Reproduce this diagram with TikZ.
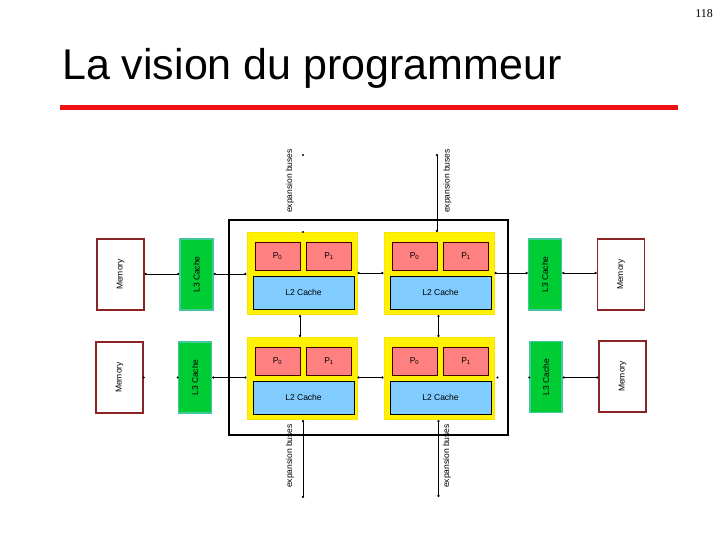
\documentclass[tikz,border=0pt]{standalone}
\usepackage{fontspec}
\setmainfont{Liberation Sans}
\newfontfamily\serifnum{Liberation Serif}
\usetikzlibrary{arrows.meta}
\definecolor{barred}{HTML}{EE1111}
\definecolor{pfill}{HTML}{FF8080}
\definecolor{l2fill}{HTML}{80CCFF}
\definecolor{l3fill}{HTML}{00CC33}
\definecolor{l3edge}{HTML}{40C8A0}
\definecolor{memedge}{HTML}{8B2525}
\tikzset{
  lbl/.style={font=\fontsize{8.5}{9}\selectfont, text=black},
  yblock/.style={fill=yellow, draw=yellow!85!orange, line width=1pt, minimum width=110pt, minimum height=82pt, inner sep=0pt},
  pbox/.style={fill=pfill, draw=black!75!red, line width=0.8pt, minimum width=45pt, minimum height=28pt, inner sep=0pt, lbl},
  l2box/.style={fill=l2fill, draw=black, line width=0.8pt, minimum width=101pt, minimum height=33pt, inner sep=0pt, lbl},
  l3box/.style={fill=l3fill, draw=l3edge, line width=1.5pt, minimum width=33pt, minimum height=71pt, inner sep=0pt},
  membox/.style={fill=white, draw=memedge, line width=1.5pt, minimum width=47pt, minimum height=71pt, inner sep=0pt},
  vlabel/.style={lbl, rotate=90, inner sep=0pt},
  conn/.style={line width=0.8pt, {Circle[length=2.2pt]}-{Circle[length=2.2pt]}},
  tip/.style={fill=black}
}
\begin{document}
\begin{tikzpicture}[x=1pt,y=-1pt]
\useasboundingbox (0,0) rectangle (720,540);
\fill[white] (0,0) rectangle (720,540);
% page number and title
\node[anchor=north east, inner sep=0pt, font=\serifnum\fontsize{12}{14}\selectfont] (pnum) at (713,9) {118};
\node[anchor=base west, inner sep=0pt, font=\fontsize{43}{48}\selectfont] (title) at (62,80) {La vision du programmeur};
\fill[barred] (60,105) rectangle (678,110);
% main box
\node[draw=black, line width=2.2pt, minimum width=279pt, minimum height=215pt, inner sep=0pt] (chip) at (368.5,327.5) {};
% yellow blocks
\node[yblock] (yTL) at (302,273.5) {};
\node[yblock] (yTR) at (439,273.5) {};
\node[yblock] (yBL) at (302,378.5) {};
\node[yblock] (yBR) at (439,378.5) {};
% processors and L2 caches
\foreach \b/\cx/\ty in {TL/247/232, TR/384/232, BL/247/337, BR/384/337}{
  \node[pbox] (p0\b) at (\cx+30.5,\ty+24) {P\textsubscript{0}};
  \node[pbox] (p1\b) at (\cx+82,\ty+24) {P\textsubscript{1}};
  \node[l2box] (l2\b) at (\cx+56.5,\ty+60.5) {L2 Cache};
}
% L3 caches
\node[l3box] (l3a) at (196.5,274.5) {};
\node[vlabel] at (l3a) {L3 Cache};
\node[l3box] (l3b) at (195,377.5) {};
\node[vlabel] at (l3b) {L3 Cache};
\node[l3box] (l3c) at (545,274.5) {};
\node[vlabel] at (l3c) {L3 Cache};
\node[l3box, minimum width=32pt] (l3d) at (546,377) {};
\node[vlabel] at (l3d) {L3 Cache};
% memories
\node[membox] (m1) at (120.5,274.5) {};
\node[vlabel] at (m1) {Memory};
\node[membox] (m2) at (119.5,377.5) {};
\node[vlabel] at (m2) {Memory};
\node[membox] (m3) at (621,274.5) {};
\node[vlabel] at (m3) {Memory};
\node[membox] (m4) at (622.5,376.5) {};
\node[vlabel] at (m4) {Memory};
% horizontal connectors, top row
\draw[conn] (m1.east |- 0,274) -- (l3a.west |- 0,274);
\draw[conn] (l3a.east |- 0,274) -- (yTL.west |- 0,274);
\draw[conn] (yTL.east |- 0,273) -- (yTR.west |- 0,273);
\draw[conn] (yTR.east |- 0,273) -- (l3c.west |- 0,273);
\draw[conn] (l3c.east |- 0,273) -- (m3.west |- 0,273);
% horizontal connectors, bottom row
\fill[tip] (m2.east |- 0,377.5) circle (1.1pt);
\fill[tip] (l3b.west |- 0,377.5) circle (1.1pt);
\draw[conn] (l3b.east |- 0,377.5) -- (yBL.west |- 0,377.5);
\draw[conn] (yBL.east |- 0,377.5) -- (yBR.west |- 0,377.5);
\fill[tip] ([xshift=3pt]yBR.east |- 0,377.5) circle (1.1pt);
\fill[tip] (l3d.west |- 0,377.5) circle (1.1pt);
\draw[conn] (l3d.east |- 0,377.5) -- (m4.west |- 0,377.5);
% vertical connectors
\coordinate (busTL) at (303,155);
\coordinate (busTR) at (437,154);
\coordinate (busBL) at (303,498);
\coordinate (busBR) at (438.5,497);
\fill[tip] (busTL) circle (1.1pt);
\fill[tip] (busTL |- yTL.north) circle (1.1pt);
\draw[conn] (busTR) -- (busTR |- yTR.north);
\draw[conn] (yTL.south -| 300,0) -- (yBL.north -| 300,0);
\draw[conn] (yTR.south -| 438.5,0) -- (yBR.north -| 438.5,0);
\draw[conn] (yBL.south -| busBL) -- (busBL);
\draw[conn] (yBR.south -| busBR) -- (busBR);
% bus labels
\node[vlabel] (eTL) at (290,181) {expansion buses};
\node[vlabel] (eTR) at (447.5,181) {expansion buses};
\node[vlabel] (eBL) at (290,456) {expansion buses};
\node[vlabel] (eBR) at (447,456) {expansion buses};
\end{tikzpicture}
\end{document}
